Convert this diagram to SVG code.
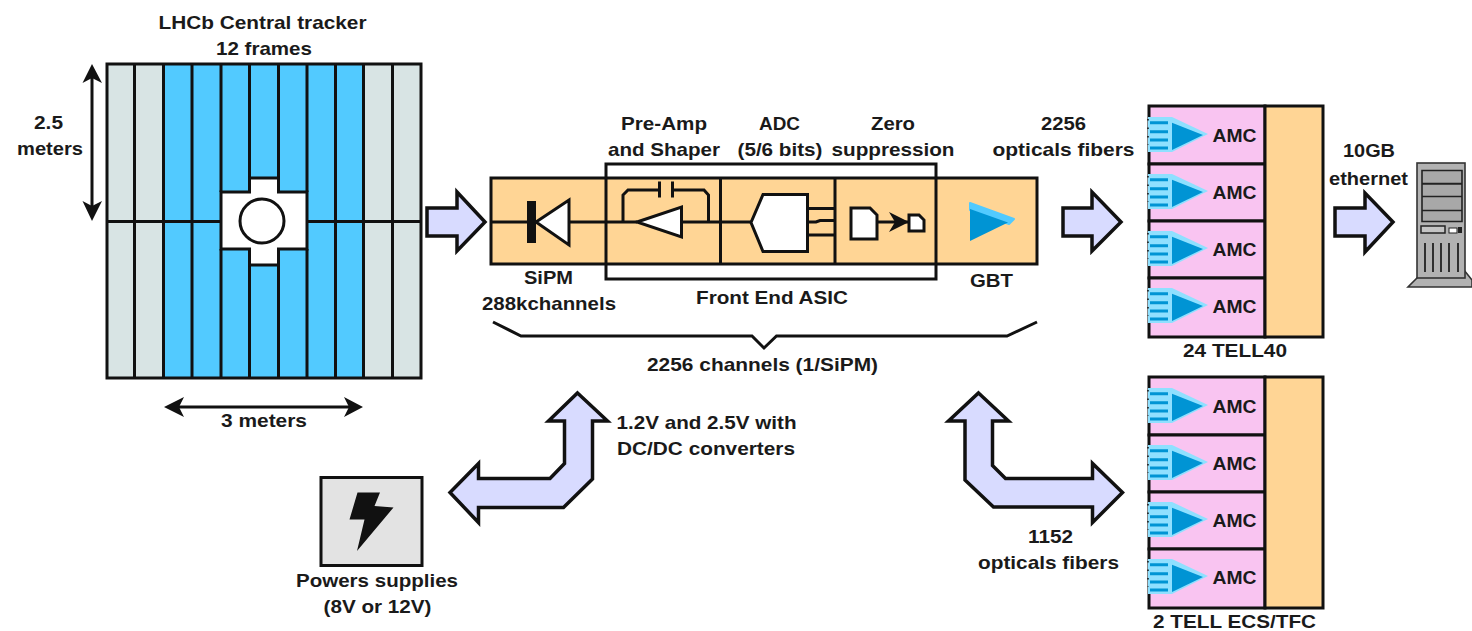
<svg xmlns="http://www.w3.org/2000/svg" xmlns:xlink="http://www.w3.org/1999/xlink" width="1472" height="631" viewBox="0 0 1472 631">
<style>
text{font-family:"Liberation Sans",Arial,sans-serif;font-size:18.5px;font-weight:700;fill:#1a1a1a;text-anchor:middle}
.s{stroke:#111;stroke-width:3;fill:none;stroke-linejoin:miter}
.g{fill:#d8e4e4}.b{fill:#52caff}.o{fill:#ffd595;stroke:#111;stroke-width:3}
.p{fill:#f9c4f1;stroke:#111;stroke-width:3}
.a{fill:#d8dbff;stroke:#111;stroke-width:3.5;stroke-linejoin:miter}
.w{fill:#fff;stroke:#111;stroke-width:3}
.k{fill:#111}
.srv{fill:#b2b2b2;stroke:#333;stroke-width:1.6}
</style>
<defs>
<g id="opt">
<rect x="-1" y="11" width="24" height="35" fill="#8fe0ff"/>
<path d="M1 16.700h18M1 25.700h18M1 34h18M1 42h18" stroke="#0094d4" stroke-width="3"/>
<path d="M-1 13v26" stroke="#111" stroke-width="1.5" stroke-dasharray="1.500 7"/>
<path d="M23 11 59 28 23 46z" fill="#8fe0ff"/>
<path d="M23 16.700 54 29 23 44z" fill="#0094d4"/>
</g>
<g id="tell">
<rect class="p" x="1149" y="0" width="116" height="58"/>
<rect class="p" x="1149" y="58" width="116" height="57"/>
<rect class="p" x="1149" y="115" width="116" height="57"/>
<rect class="p" x="1149" y="172" width="116" height="59"/>
<rect class="o" x="1265" y="0" width="58" height="231"/>
<use xlink:href="#opt" href="#opt" x="1149" y="0"/>
<use xlink:href="#opt" href="#opt" x="1149" y="57"/>
<use xlink:href="#opt" href="#opt" x="1149" y="114"/>
<use xlink:href="#opt" href="#opt" x="1149" y="171"/>
<text x="1234.500" y="36" textLength="44" lengthAdjust="spacingAndGlyphs">AMC</text>
<text x="1234.500" y="92.500" textLength="44" lengthAdjust="spacingAndGlyphs">AMC</text>
<text x="1234.500" y="149.500" textLength="44" lengthAdjust="spacingAndGlyphs">AMC</text>
<text x="1234.500" y="206.500" textLength="44" lengthAdjust="spacingAndGlyphs">AMC</text>
</g>
</defs>

<g id="tracker">
<rect class="g" x="107" y="64" width="314" height="314"/>
<rect class="b" x="164" y="64" width="199" height="314"/>
<path class="s" d="M134.500 64V378M163.500 64V378M192 64V378M221 64V192M221 249V378M249.500 64V178M249.500 265V378M278.500 64V178M278.500 265V378M307 64V192M307 249V378M335.500 64V378M363.500 64V378M392.500 64V378M107 221.500H221M307 221.500H421"/>
<path d="M221 192H249.500V178H278.500V192H307V249H278.500V265H249.500V249H221z" fill="#fff" stroke="#111" stroke-width="3"/>
<circle cx="262" cy="221" r="22" class="w"/>
<rect class="s" x="107" y="64" width="314" height="314"/>
<text x="262.500" y="29" textLength="208" lengthAdjust="spacingAndGlyphs">LHCb Central tracker</text>
<text x="264" y="55" textLength="96" lengthAdjust="spacingAndGlyphs">12 frames</text>
</g>

<g id="dim-2-5m">
<path class="s" d="M92 72V212"/>
<path class="k" d="M92 64 102 83 92 78 82.500 83zM92 221 102 201 92 206 82.500 201z"/>
<text x="48.500" y="129" textLength="29" lengthAdjust="spacingAndGlyphs">2.5</text>
<text x="50" y="155" textLength="66" lengthAdjust="spacingAndGlyphs">meters</text>
</g>
<g id="dim-3m">
<path class="s" d="M172 407H355"/>
<path class="k" d="M164 407 184 397 179 407 184 417zM363 407 344 397 349 407 344 417z"/>
<text x="264" y="427" textLength="86" lengthAdjust="spacingAndGlyphs">3 meters</text>
</g>

<g id="front-end">
<rect class="o" x="491" y="178" width="546" height="86"/>
<path class="s" d="M491 222H637M681 222H751M720.500 178V264M835 178V264"/>
<path class="s" d="M606 164H936V279H606z"/>
<g id="sipm">
<rect class="k" x="527" y="201" width="9" height="42"/>
<path class="w" d="M536 222 569 200V245z"/>
<text x="548.500" y="284" textLength="49" lengthAdjust="spacingAndGlyphs">SiPM</text>
<text x="549" y="310" textLength="134" lengthAdjust="spacingAndGlyphs">288kchannels</text>
</g>
<g id="preamp">
<path class="s" d="M623 222V195L628 190H659.500M672.500 190H704L708.500 195V222"/>
<path class="s" d="M659.500 181.500V197.500M672.500 181.500V197.500"/>
<path class="w" d="M637 222 681.500 207V237z"/>
<text x="664" y="130" textLength="86" lengthAdjust="spacingAndGlyphs">Pre-Amp</text>
<text x="664" y="155.500" textLength="112" lengthAdjust="spacingAndGlyphs">and Shaper</text>
</g>
<g id="adc">
<path class="w" d="M751 222.500 763 194.500H807.500V251.500H763z"/>
<path class="s" d="M807.500 208.500H835M807.500 222H816L820 220.500H835M807.500 235H835"/>
<text x="779.500" y="130" textLength="41" lengthAdjust="spacingAndGlyphs">ADC</text>
<text x="780" y="155.500" textLength="85" lengthAdjust="spacingAndGlyphs">(5/6 bits)</text>
</g>
<g id="zero">
<path class="s" d="M877 222H909"/>
<path class="k" d="M889 212 909 222 889 232 895 222z"/>
<path class="w" d="M851 208H870L877 215V239H851z"/>
<path class="w" d="M909 215H919L924 220V231H909z"/>
<text x="893" y="130" textLength="44" lengthAdjust="spacingAndGlyphs">Zero</text>
<text x="893" y="155.500" textLength="123" lengthAdjust="spacingAndGlyphs">suppression</text>
</g>
<g id="gbt">
<path d="M970 203 1014 219 1009 224 970 210z" fill="#52caff" stroke="#52caff" stroke-width="2" stroke-linejoin="round"/>
<path d="M970 209 1008 222.500 970 241z" fill="#0094d4"/>
<text x="991.500" y="287" textLength="43" lengthAdjust="spacingAndGlyphs">GBT</text>
</g>
<text x="772" y="304" textLength="152" lengthAdjust="spacingAndGlyphs">Front End ASIC</text>
<path class="s" d="M493 322 521 336H752L764 348 776.500 336H1007L1037 322"/>
<text x="762.500" y="370.500" textLength="231" lengthAdjust="spacingAndGlyphs">2256 channels (1/SiPM)</text>
</g>

<g id="tell40">
<use xlink:href="#tell" href="#tell" x="0" y="106"/>
<text x="1235" y="357" textLength="104" lengthAdjust="spacingAndGlyphs">24 TELL40</text>
</g>
<g id="tell-ecs">
<use xlink:href="#tell" href="#tell" x="0" y="377"/>
<text x="1234.500" y="628" textLength="163" lengthAdjust="spacingAndGlyphs">2 TELL ECS/TFC</text>
</g>

<g id="server">
<path class="srv" d="M1425 270H1464L1472 280V287H1408z"/>
<rect class="srv" x="1417" y="163" width="48" height="115"/>
<path d="M1422 170.500h40v13h-40zM1422 184h40v12.500h-40zM1422 196.500h40v14h-40zM1422 210.500h40v11h-40z" fill="#a8a8a8" stroke="#222" stroke-width="1.600"/>
<rect x="1421" y="226" width="24" height="7" fill="#c4c4c4" stroke="#222" stroke-width="1.500"/>
<rect x="1449" y="228" width="8" height="5" fill="#fff" stroke="#222" stroke-width="1"/>
<path d="M1458 227h4v6h-4z" fill="#222"/>
<path d="M1425 243V272M1433 243V272M1441 243V272M1449 243V272M1458 243V272" stroke="#222" stroke-width="1.800"/>
<text x="1369" y="157" textLength="52" lengthAdjust="spacingAndGlyphs">10GB</text>
<text x="1368.500" y="185" textLength="79" lengthAdjust="spacingAndGlyphs">ethernet</text>
</g>

<g id="power">
<rect x="321" y="477.500" width="101" height="88" fill="#e3e3e3" stroke="#111" stroke-width="3"/>
<path class="k" d="M357.500 492.500H380L374.500 506 393.500 507.500 357 551 364.500 519.500H349.500z"/>
<text x="377" y="587" textLength="162" lengthAdjust="spacingAndGlyphs">Powers supplies</text>
<text x="377.500" y="613" textLength="108" lengthAdjust="spacingAndGlyphs">(8V or 12V)</text>
</g>

<g id="connectors">
<path class="a" d="M427 208H457V192L485 222 457 251V236H427z"/>
<path class="a" d="M1063 208H1092V192L1121 222 1092 251V236H1063z"/>
<path class="a" d="M1335 208H1365V193L1393 222 1365 252V236H1335z"/>
<path class="a" d="M577.500 393 607.500 421H592.500V479L563.500 507.500H478.500V522.500L450 492.500 478.500 463.500V478.500H550L564.500 463.500V421H548.500z"/>
<path class="a" d="M978.500 393 1008.500 421H992.500V465.500L1005.500 478.500H1092.500V463.500L1122.500 492.500 1092.500 522.500V507H993.500L965 480V421H948.500z"/>
</g>

<g id="labels">
<text x="1063.500" y="130" textLength="45" lengthAdjust="spacingAndGlyphs">2256</text>
<text x="1063.500" y="155.500" textLength="142" lengthAdjust="spacingAndGlyphs">opticals fibers</text>
<text x="706.500" y="429" textLength="180" lengthAdjust="spacingAndGlyphs">1.2V and 2.5V with</text>
<text x="706" y="455" textLength="178" lengthAdjust="spacingAndGlyphs">DC/DC converters</text>
<text x="1050.500" y="543" textLength="45" lengthAdjust="spacingAndGlyphs">1152</text>
<text x="1048.500" y="569" textLength="141" lengthAdjust="spacingAndGlyphs">opticals fibers</text>
</g>
</svg>
